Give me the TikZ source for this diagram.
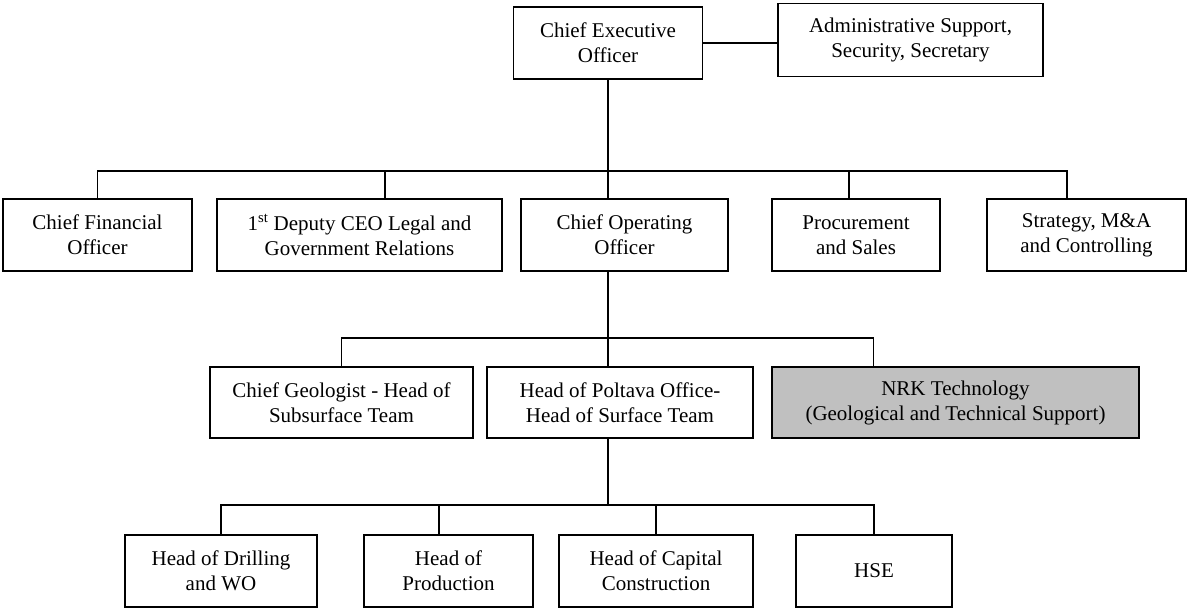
\documentclass[tikz,border=0pt]{standalone}
\usepackage{fontspec}
\setmainfont{Liberation Serif}
\definecolor{nrkgrey}{HTML}{C0C0C0}

\begin{document}
\begin{tikzpicture}
  [
    x=1pt, y=-1pt,
    line width=1.3pt,
    unit/.style={rectangle, draw, align=center, minimum height=72pt,
      inner sep=2pt, font=\fontsize{21}{25}\selectfont},
    grey unit/.style={unit, fill=nrkgrey}
    ]
  \useasboundingbox (0,0) rectangle (1188,610);

  % top
  \node[unit, minimum width=189pt] (ceo) at (608,43) {Chief Executive\\Officer};
  \node[unit, minimum width=265pt, minimum height=73pt] (admin) at (910.5,40) {Administrative Support,\\Security, Secretary};

  % second level
  \node[unit, minimum width=189pt] (cfo) at (97.5,235) {Chief Financial\\Officer};
  \node[unit, minimum width=285pt] (deputy) at (359.5,235) {1\textsuperscript{st} Deputy CEO Legal and\\Government Relations};
  \node[unit, minimum width=207pt] (coo) at (624.5,235) {Chief Operating\\Officer};
  \node[unit, minimum width=168pt] (proc) at (856,235) {Procurement\\and Sales};
  \node[unit, minimum width=199pt] (strat) at (1086.5,235) {Strategy, M\&A\\and Controlling};

  % third level
  \node[unit, minimum width=263pt, minimum height=71pt] (geol) at (341.5,402.5) {Chief Geologist - Head of\\Subsurface Team};
  \node[unit, minimum width=266pt, minimum height=71pt] (poltava) at (620,402.5) {Head of Poltava Office-\\Head of Surface Team};
  \node[grey unit, minimum width=367pt, minimum height=71pt] (nrk) at (955.5,402.5) {NRK Technology\\(Geological and Technical Support)};

  % fourth level
  \node[unit, minimum width=192pt] (drill) at (221,571) {Head of Drilling\\and WO};
  \node[unit, minimum width=169pt] (prod) at (448.5,571) {Head of\\Production};
  \node[unit, minimum width=194pt] (capital) at (656,571) {Head of Capital\\Construction};
  \node[unit, minimum width=156pt] (hse) at (874,571) {HSE};

  \coordinate (bus1) at (608,171);
  \coordinate (bus2) at (608,338);
  \coordinate (bus3) at (608,505);

  \draw (ceo.east) -- (ceo.east -| admin.west);
  \draw (ceo.south) -- (bus1);
  \draw (cfo.north) |- ([xshift=-19.5pt]strat.north |- bus1) -- ([xshift=-19.5pt]strat.north);
  \draw ([xshift=25.5pt]deputy.north) -- ([xshift=25.5pt]deputy.north |- bus1);
  \draw (bus1) -- ([xshift=-16.5pt]coo.north);
  \draw ([xshift=-7pt]proc.north) -- ([xshift=-7pt]proc.north |- bus1);

  \draw ([xshift=-16.5pt]coo.south) -- ([xshift=-12pt]poltava.north);
  \draw (geol.north) |- ([xshift=-82pt]nrk.north |- bus2) -- ([xshift=-82pt]nrk.north);

  \draw ([xshift=-12pt]poltava.south) -- (bus3);
  \draw (drill.north) |- (hse.north |- bus3) -- (hse.north);
  \draw ([xshift=-9.5pt]prod.north) -- ([xshift=-9.5pt]prod.north |- bus3);
  \draw (capital.north) -- (capital.north |- bus3);

\end{tikzpicture}
\end{document}
